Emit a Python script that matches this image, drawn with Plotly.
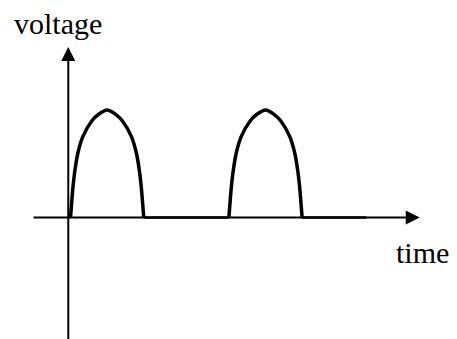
import plotly.graph_objects as go

# signal: time (one hump = 1 unit), voltage (peak = 1)
hump_time = [0.000, 0.015, 0.033, 0.060, 0.100, 0.165, 0.290, 0.380, 0.495, 0.610, 0.700, 0.825, 0.890, 0.930, 0.957, 0.975, 0.990,
             None,
             2.140, 2.155, 2.173, 2.200, 2.240, 2.305, 2.430, 2.520, 2.635, 2.750, 2.840, 2.965, 3.030, 3.070, 3.097, 3.115, 3.130]
hump_voltage = [0.00, 0.13, 0.28, 0.44, 0.60, 0.75, 0.90, 0.96, 1.00, 0.96, 0.90, 0.75, 0.60, 0.44, 0.28, 0.13, 0.00,
                None,
                0.00, 0.13, 0.28, 0.44, 0.60, 0.75, 0.90, 0.96, 1.00, 0.96, 0.90, 0.75, 0.60, 0.44, 0.28, 0.13, 0.00]

# flat (zero) parts of the signal
flat_time = [0.990, 2.140, None, 3.130, 4.000]
flat_voltage = [0.00, 0.00, None, 0.00, 0.00]

x_label = "time"
y_label = "voltage"

fig = go.Figure()

fig.add_trace(go.Scatter(
    x=hump_time, y=hump_voltage,
    mode="lines",
    line=dict(color="black", width=3.5, shape="spline", smoothing=0.8),
    connectgaps=False,
    showlegend=False,
    hoverinfo="skip",
))
fig.add_trace(go.Scatter(
    x=flat_time, y=flat_voltage,
    mode="lines",
    line=dict(color="black", width=2.5),
    connectgaps=False,
    showlegend=False,
    hoverinfo="skip",
))

# axes drawn as arrows
arrow = dict(text="", showarrow=True, arrowhead=2, arrowsize=1.4, arrowwidth=2,
             arrowcolor="black", xref="x", yref="y", axref="x", ayref="y", standoff=0)
fig.add_annotation(x=4.72, y=0, ax=-0.52, ay=0, **arrow)
fig.add_annotation(x=-0.03, y=1.585, ax=-0.03, ay=-1.3, **arrow)

# page body has an 8px margin, so paper coords are shifted by 8px
font = dict(family="Liberation Serif, Times New Roman, serif", size=30, color="black")
fig.add_annotation(text=y_label, x=0.008, y=0.955, xref="paper", yref="paper",
                   xanchor="left", yanchor="middle", showarrow=False, font=font)
fig.add_annotation(text=x_label, x=0.845, y=0.278, xref="paper", yref="paper",
                   xanchor="left", yanchor="middle", showarrow=False, font=font)

fig.update_xaxes(visible=False, range=[-0.8446, 5.3311])
fig.update_yaxes(visible=False, range=[-1.2047, 1.9488])
fig.update_layout(
    width=457, height=339,
    margin=dict(l=0, r=0, t=0, b=0),
    plot_bgcolor="white", paper_bgcolor="white",
)

fig.write_html("out.html")
